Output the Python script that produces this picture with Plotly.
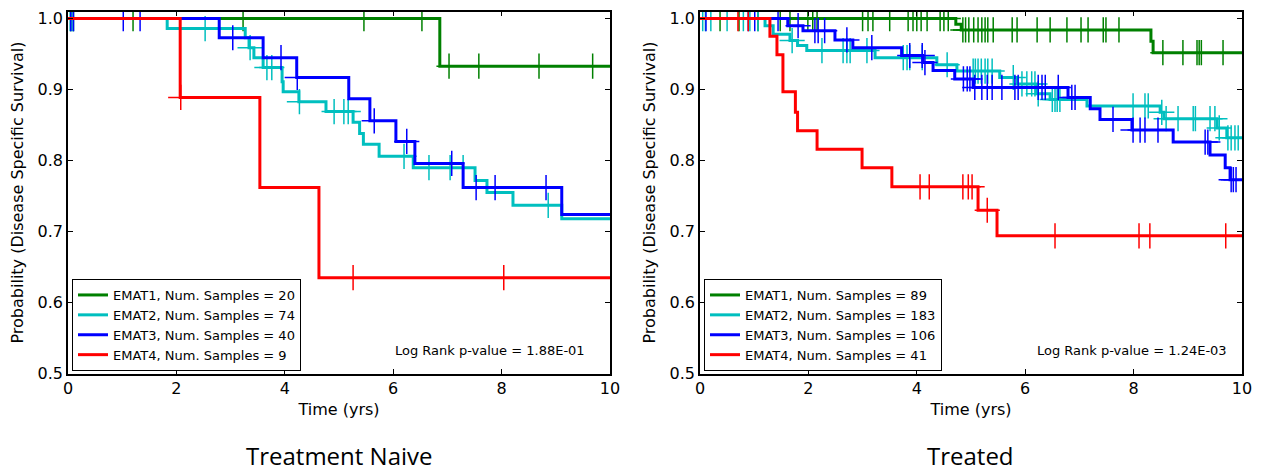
import numpy as np
import plotly.graph_objects as go

# ---------------- DATA ----------------
group_names = ["EMAT1", "EMAT2", "EMAT3", "EMAT4"]
colors = ["#008000", "#00BFBF", "#0000FF", "#FF0000"]

# Treatment Naive panel
naive_samples = [20, 74, 40, 9]
naive_emat1_t = [0, 6.86]
naive_emat1_s = [1.0, 0.933]
naive_emat1_cens = [0.05, 0.1, 1.2, 3.23, 5.46, 6.53, 7.03, 7.58, 8.69, 9.68]

naive_emat2_t = [0, 1.83, 3.27, 3.34, 3.43, 3.6, 3.95, 3.97, 4.26, 4.76, 5.26, 5.38, 5.45,
                 5.74, 6.37, 7.51, 7.73, 8.21, 9.11]
naive_emat2_s = [1.0, 0.986, 0.973, 0.959, 0.945, 0.931, 0.911, 0.897, 0.883, 0.869, 0.854,
                 0.838, 0.823, 0.806, 0.790, 0.772, 0.755, 0.737, 0.718]
naive_emat2_cens = [0.04, 0.07, 0.1, 2.53, 3.36, 3.67, 3.76, 4.27, 4.91, 5.09, 5.17, 6.2,
                    6.66, 7.05, 7.29, 8.86]

naive_emat3_t = [0, 2.79, 3.6, 4.22, 5.18, 5.57, 6.05, 6.4, 7.29, 9.11]
naive_emat3_s = [1.0, 0.973, 0.945, 0.917, 0.887, 0.856, 0.827, 0.796, 0.762, 0.724]
naive_emat3_cens = [0.05, 0.1, 1.02, 1.33, 3.04, 3.93, 4.23, 5.65, 6.25, 7.08, 7.53, 7.88, 8.82]

naive_emat4_t = [0, 2.07, 3.54, 4.63]
naive_emat4_s = [1.0, 0.889, 0.762, 0.635]
naive_emat4_cens = [2.08, 5.26, 8.04]

naive_pvalue = "Log Rank p-value = 1.88E-01"

# Treated panel
treated_samples = [89, 183, 106, 41]
treated_emat1_t = [0, 4.72, 4.82, 8.32, 8.36]
treated_emat1_s = [1.0, 0.992, 0.984, 0.968, 0.952]
treated_emat1_cens = [0.37, 0.72, 1.07, 1.48, 1.66, 1.99, 2.08, 2.16, 3.0, 3.1, 3.19, 3.5,
                      3.84, 3.93, 4.0, 4.08, 4.19, 4.43, 4.5, 4.58, 4.85, 4.9, 4.96, 5.05,
                      5.13, 5.2, 5.26, 5.31, 5.41, 5.76, 5.85, 6.22, 6.46, 6.77, 7.03, 7.16,
                      7.44, 7.49, 7.73, 8.54, 8.91, 9.17, 9.21, 9.25, 9.65]

treated_emat2_t = [0, 1.2, 1.35, 1.66, 1.8, 1.97, 3.23, 4.37, 4.74, 5.53, 5.85, 6.2, 6.46,
                   7.14, 8.49, 8.56, 9.54, 9.72]
treated_emat2_s = [1.0, 0.99, 0.978, 0.969, 0.962, 0.955, 0.945, 0.935, 0.926, 0.917, 0.908,
                   0.894, 0.886, 0.877, 0.868, 0.859, 0.846, 0.832]
treated_emat2_cens = [0.05, 0.1, 0.2, 0.5, 0.8, 0.92, 1.07, 1.7, 2.25, 2.64, 2.71, 2.77, 3.08,
                      3.75, 3.82, 3.87, 4.1, 4.56, 5.04, 5.08, 5.13, 5.19, 5.26, 5.31, 5.39,
                      5.78, 5.94, 6.03, 6.12, 6.18, 6.24, 6.5, 6.55, 6.59, 6.64, 7.99, 8.21,
                      8.27, 8.52, 8.6, 8.82, 9.1, 9.14, 9.41, 9.5, 9.58, 9.74, 9.8, 9.87, 9.93]

treated_emat3_t = [0, 1.62, 1.9, 2.49, 2.82, 3.72, 4.11, 4.30, 4.70, 5.04, 6.79, 7.2, 7.38,
                   7.97, 8.73, 9.41, 9.69, 9.78]
treated_emat3_s = [1.0, 0.990, 0.983, 0.970, 0.959, 0.948, 0.938, 0.927, 0.915, 0.903, 0.889,
                   0.873, 0.858, 0.843, 0.826, 0.808, 0.790, 0.773]
treated_emat3_cens = [0.11, 0.89, 1.01, 1.44, 1.81, 2.12, 2.18, 2.3, 2.71, 3.17, 3.87, 4.1,
                      4.15, 4.86, 4.93, 4.98, 5.07, 5.2, 5.3, 5.39, 5.57, 5.81, 5.87, 6.24,
                      6.31, 6.37, 6.61, 6.86, 6.92, 7.62, 7.99, 8.12, 8.21, 8.45, 9.32, 9.37,
                      9.8, 9.84, 9.89]

treated_emat4_t = [0, 1.29, 1.42, 1.53, 1.76, 1.8, 2.16, 2.99, 3.54, 5.13, 5.48]
treated_emat4_s = [1.0, 0.975, 0.949, 0.897, 0.868, 0.842, 0.816, 0.790, 0.763, 0.730, 0.694]
treated_emat4_cens = [0.7, 0.89, 4.06, 4.23, 4.85, 4.95, 5.02, 5.3, 6.55, 8.1, 8.3, 9.7]

treated_pvalue = "Log Rank p-value = 1.24E-03"

panel_titles = ["Treatment Naive", "Treated"]
x_ticks = [0, 2, 4, 6, 8, 10]
y_ticks = [0.5, 0.6, 0.7, 0.8, 0.9, 1.0]
x_max = 10

# ---------------- FIGURE ----------------
# the page body has an 8px margin; lay out in page pixels and shift
OFF = 8
W, H = 1262 - OFF, 472 - OFF
fig = go.Figure()


def px(x):
    return (x - OFF) / W


def py(y):
    return 1 - (y - OFF) / H


def surv_at(times, surv, t):
    idx = np.searchsorted(np.array(times), t, side="right") - 1
    return float(np.array(surv)[idx])


panels = [
    dict(curves=[(naive_emat1_t, naive_emat1_s, naive_emat1_cens),
                 (naive_emat2_t, naive_emat2_s, naive_emat2_cens),
                 (naive_emat3_t, naive_emat3_s, naive_emat3_cens),
                 (naive_emat4_t, naive_emat4_s, naive_emat4_cens)],
         samples=naive_samples, xa="x", ya="y", legend="legend"),
    dict(curves=[(treated_emat1_t, treated_emat1_s, treated_emat1_cens),
                 (treated_emat2_t, treated_emat2_s, treated_emat2_cens),
                 (treated_emat3_t, treated_emat3_s, treated_emat3_cens),
                 (treated_emat4_t, treated_emat4_s, treated_emat4_cens)],
         samples=treated_samples, xa="x2", ya="y2", legend="legend2"),
]

for p in panels:
    for i, (t, s, c) in enumerate(p["curves"]):
        xs = list(t) + [x_max]
        ys = list(s) + [s[-1]]
        fig.add_trace(go.Scatter(
            x=xs, y=ys, mode="lines", line=dict(color=colors[i], width=3, shape="hv"),
            name=f"{group_names[i]}, Num. Samples = {p['samples'][i]}",
            xaxis=p["xa"], yaxis=p["ya"], legend=p["legend"], showlegend=True,
        ))
        fig.add_trace(go.Scatter(
            x=c, y=[surv_at(t, s, ct) for ct in c], mode="markers",
            marker=dict(symbol="cross-thin", size=18, color=colors[i],
                        line=dict(color=colors[i], width=1.5)),
            xaxis=p["xa"], yaxis=p["ya"], showlegend=False, hoverinfo="skip",
        ))

axis_common = dict(showline=True, linecolor="black", linewidth=1.5, mirror="ticks",
                   ticks="inside", ticklen=5, tickwidth=1, tickcolor="black",
                   showgrid=False, zeroline=False, automargin=False,
                   tickfont=dict(family="DejaVu Sans", size=16, color="black"))

xd1 = [px(68), px(610)]
xd2 = [px(700), px(1242)]
yd = [py(373.5), py(11.5)]

xaxis_kw = dict(range=[0, x_max], tickvals=x_ticks, ticktext=[str(v) for v in x_ticks],
                title=dict(text="Time (yrs)", font=dict(family="DejaVu Sans", size=16, color="black"),
                           standoff=6), **axis_common)
yaxis_kw = dict(range=[0.5, 1.01], tickvals=y_ticks, ticktext=[f"{v:.1f}" for v in y_ticks],
                title=dict(text="Probability (Disease Specific Survival)",
                           font=dict(family="DejaVu Sans", size=16, color="black"), standoff=10),
                **axis_common)

legend_kw = dict(bgcolor="white", bordercolor="black", borderwidth=1,
                 font=dict(family="DejaVu Sans", size=13, color="black"),
                 xanchor="left", yanchor="bottom", tracegroupgap=0, itemwidth=30)

fig.update_layout(
    width=W, height=H, margin=dict(l=0, r=0, t=0, b=0),
    paper_bgcolor="white", plot_bgcolor="white",
    xaxis=dict(domain=xd1, anchor="y", **xaxis_kw),
    yaxis=dict(domain=yd, anchor="x", **yaxis_kw),
    xaxis2=dict(domain=xd2, anchor="y2", **xaxis_kw),
    yaxis2=dict(domain=yd, anchor="x2", **yaxis_kw),
    legend=dict(x=px(72), y=py(371), **legend_kw),
    legend2=dict(x=px(704), y=py(371), **legend_kw),
)

fig.add_annotation(x=px(490), y=py(350), xref="paper", yref="paper", text=naive_pvalue,
                   showarrow=False, xanchor="center", yanchor="middle",
                   font=dict(family="DejaVu Sans", size=13, color="black"))
fig.add_annotation(x=px(1132), y=py(350), xref="paper", yref="paper", text=treated_pvalue,
                   showarrow=False, xanchor="center", yanchor="middle",
                   font=dict(family="DejaVu Sans", size=13, color="black"))

fig.add_annotation(x=px(340), y=py(455), xref="paper", yref="paper", text=panel_titles[0],
                   showarrow=False, xanchor="center", yanchor="middle",
                   font=dict(family="Open Sans", size=24, color="black"))
fig.add_annotation(x=px(970), y=py(455), xref="paper", yref="paper", text=panel_titles[1],
                   showarrow=False, xanchor="center", yanchor="middle",
                   font=dict(family="Open Sans", size=24, color="black"))

fig.write_html("out.html")
